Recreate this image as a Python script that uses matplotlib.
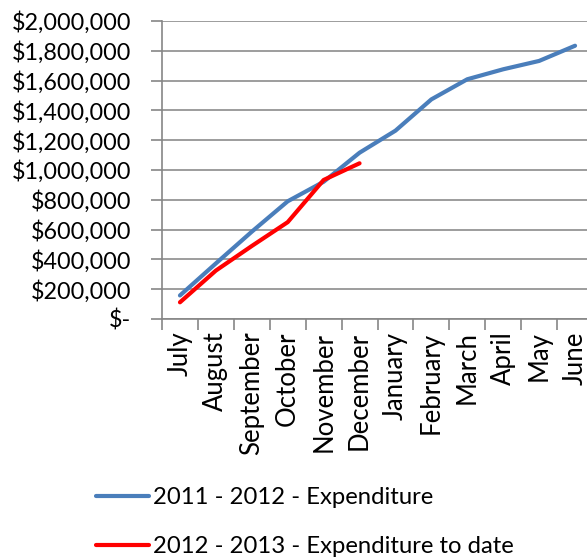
import matplotlib
matplotlib.use("Agg")
import matplotlib.pyplot as plt
from matplotlib.ticker import FuncFormatter, FixedLocator
from matplotlib.lines import Line2D

months = ["July", "August", "September", "October", "November", "December",
          "January", "February", "March", "April", "May", "June"]
exp_2011_2012 = [158000, 373000, 586000, 790000, 921000, 1116000,
                 1264000, 1474000, 1609000, 1676000, 1732000, 1834000]
exp_2012_2013 = [112000, 325000, 490000, 650000, 933000, 1045000]
series_labels = ["2011 - 2012 - Expenditure", "2012 - 2013 - Expenditure to date"]
yticks = list(range(0, 2000001, 200000))

plt.rcParams['font.family'] = ['Lato', 'DejaVu Sans']

W, H = 587, 558
fig = plt.figure(figsize=(W / 100, H / 100), dpi=100)
x0, x1 = 162, 593
y0, y1 = 319, 21
ax = fig.add_axes([x0 / W, 1 - y0 / H, (x1 - x0) / W, (y0 - y1) / H])

xs = [i + 0.5 for i in range(len(months))]
blue = "#4A7EBB"
red = "#FF0000"
ax.plot(xs, exp_2011_2012, color=blue, lw=3.0, solid_capstyle='round', solid_joinstyle='round', zorder=3)
ax.plot(xs[:len(exp_2012_2013)], exp_2012_2013, color=red, lw=3.0, solid_capstyle='round', solid_joinstyle='round', zorder=4)

ax.set_xlim(0, len(months))
ax.set_ylim(0, 2000000)
ax.set_yticks(yticks)

def fmt(v, pos):
    if v == 0:
        return "$-"
    return "${:,.0f}".format(v)
ax.yaxis.set_major_formatter(FuncFormatter(fmt))

ax.xaxis.set_major_locator(FixedLocator(range(len(months) + 1)))
ax.xaxis.set_minor_locator(FixedLocator(xs))
ax.set_xticklabels([])
ax.set_xticklabels(months, minor=True, rotation=90, va='top', ha='center')
ax.tick_params(axis='x', which='minor', length=0, pad=9, labelsize=18.5)
ax.tick_params(axis='x', which='major', length=8, color='#868686', width=1.2, direction='out')
ax.tick_params(axis='y', length=8, color='#868686', width=1.2, direction='out', labelsize=16.8, pad=14)

ax.grid(axis='y', color='#8C8C8C', lw=1.2)
ax.set_axisbelow(True)
for s in ['top', 'right']:
    ax.spines[s].set_visible(False)
for s in ['left', 'bottom']:
    ax.spines[s].set_color('#868686')
    ax.spines[s].set_linewidth(1.2)

handles = [Line2D([], [], color=blue, lw=3.0, solid_capstyle='round'),
           Line2D([], [], color=red, lw=3.0, solid_capstyle='round')]
fig.legend(handles, series_labels, loc='upper left', bbox_to_anchor=(96 / W, 1 - 487 / H),
           frameon=False, fontsize=17.2, handlelength=2.2, handletextpad=0.2,
           labelspacing=1.17, borderaxespad=0, borderpad=0)

fig.savefig("out.png", dpi=100)
